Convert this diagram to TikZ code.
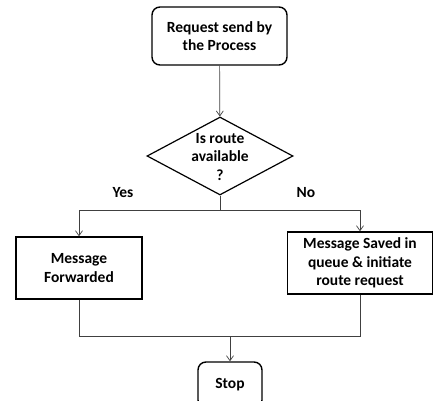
\documentclass[tikz,border=0pt]{standalone}
\usepackage{fontspec}
\setmainfont{Carlito}
\usetikzlibrary{arrows.meta,shapes.geometric}

\tikzset{
  every node/.style={font=\bfseries\fontsize{15.5}{18.5}\selectfont, align=center},
  terminal/.style={draw, line width=1.4pt, rounded corners=8pt, inner sep=0pt},
  process/.style={draw, line width=1.4pt, inner sep=0pt},
  decision/.style={draw, line width=1.2pt, diamond, inner sep=0pt},
  link/.style={draw=black!75, line width=0.7pt},
  flow/.style={link, -{Straight Barb[length=5pt,width=7pt]}},
  tag/.style={font=\bfseries\fontsize{15.5}{18.5}\selectfont}
}

\begin{document}
\begin{tikzpicture}[x=1pt,y=-1pt]
  \useasboundingbox (0,0) rectangle (434,401);
  \clip (0,0) rectangle (434,401);

  % boxes
  \node[terminal, minimum width=135pt, minimum height=58pt] (req) at (219.5,36) {Request send by\\the Process};
  \node[decision, minimum width=146pt, minimum height=78pt] (dec) at (220,156) {};
  \node at (220,157) {Is route\\available\\?};
  \node[process, minimum width=126pt, minimum height=62pt] (fwd) at (79,268) {Message\\Forwarded};
  \node[process, minimum width=145pt, minimum height=62pt] (save) at (360,263) {Message Saved in\\queue \& initiate\\route request};
  \node[terminal, minimum width=64pt, minimum height=46pt] (stop) at (230,385) {Stop};

  % junction points
  \coordinate (split) at (220,210);
  \coordinate (splitL) at (79,210);
  \coordinate (splitR) at (360,210);
  \coordinate (joinL) at (79,336);
  \coordinate (joinR) at (360,336);
  \coordinate (join) at (230,336);

  % connectors
  \draw[flow] (req) -- (dec);
  \draw[link] (dec.south) -- (split);
  \draw[flow] (splitL) -- (fwd.north);
  \draw[flow] (splitR) -- (save.north);
  \draw[link] (splitL) -- (splitR);
  \draw[link] (fwd.south) -- (joinL) -- (joinR) -- (save.south);
  \draw[flow] (join) -- (stop.north);

  % branch labels
  \node[tag] (yes) at (123,193) {Yes};
  \node[tag] (no) at (306,193) {No};
\end{tikzpicture}
\end{document}
